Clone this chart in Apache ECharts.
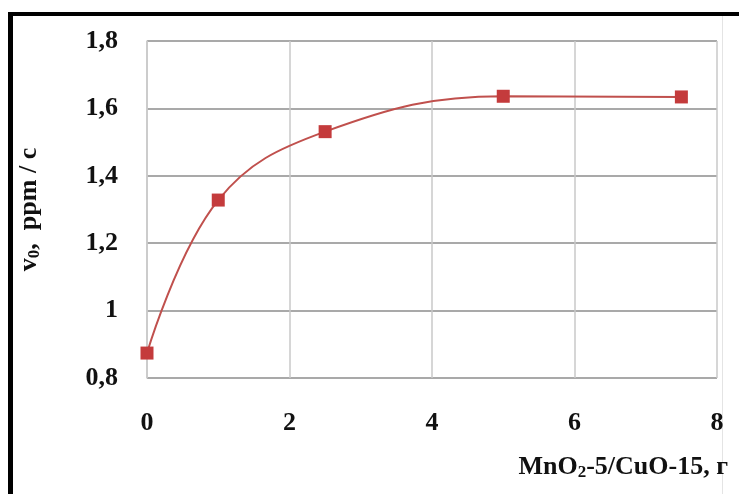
<!DOCTYPE html>
<html><head><meta charset="utf-8">
<script src="https://cdn.jsdelivr.net/npm/echarts@6/dist/echarts.min.js"></script>
<style>html,body{margin:0;padding:0;background:#fff}#c{width:739px;height:494px}</style>
</head><body><div id="c"></div>
<script>
const xValues = [0, 1, 2.5, 5, 7.5];
const yValues = [0.874, 1.328, 1.531, 1.636, 1.634];
const xTicks = [0, 2, 4, 6, 8];
const yTicks = [0.8, 1.0, 1.2, 1.4, 1.6, 1.8];

const chart = echarts.init(document.getElementById('c'));
const serif = '"Liberation Serif","DejaVu Serif",serif';
const fmt = v => (Math.round(v * 10) / 10).toString().replace('.', ',');
chart.setOption({
  animation: false,
  backgroundColor: '#fff',
  grid: { left: 147, top: 41, width: 570, height: 337 },
  xAxis: {
    type: 'value', min: xTicks[0], max: xTicks[xTicks.length - 1], interval: 2,
    axisLine: { show: false }, axisTick: { show: false },
    splitLine: { show: true, lineStyle: { color: '#c8c8c8', width: 1.5 } },
    axisLabel: { margin: 32, fontFamily: serif, fontWeight: 'bold', fontSize: 26, color: '#111', formatter: fmt }
  },
  yAxis: {
    type: 'value', min: yTicks[0], max: yTicks[yTicks.length - 1], interval: 0.2,
    axisLine: { show: true, lineStyle: { color: '#c8c8c8', width: 1.5 } }, axisTick: { show: false },
    splitLine: { show: true, lineStyle: { color: '#8c8c8c', width: 1.5 } },
    axisLabel: { margin: 29, fontFamily: serif, fontWeight: 'bold', fontSize: 26, color: '#111', formatter: fmt },
    name: '{a|v}{s|0}{a|,  ppm / c}', nameLocation: 'middle', nameGap: 104, nameRotate: 90,
    nameTextStyle: { rich: {
      a: { fontFamily: serif, fontWeight: 'bold', fontSize: 26, color: '#111' },
      s: { fontFamily: serif, fontWeight: 'bold', fontSize: 17, color: '#111', verticalAlign: 'bottom', padding: [10, 0, 0, 0] }
    } }
  },
  series: [{
    type: 'line', smooth: 0.4,
    data: xValues.map((x, i) => [x, yValues[i]]),
    symbol: 'rect', symbolSize: 13,
    lineStyle: { color: '#c0504d', width: 2 },
    itemStyle: { color: '#c43b3c' }
  }],
  graphic: [
    { type: 'rect', shape: { x: 8, y: 12, width: 5, height: 482 }, style: { fill: '#000' } },
    { type: 'rect', shape: { x: 8, y: 12, width: 731, height: 4 }, style: { fill: '#000' } },
    { type: 'rect', shape: { x: 722, y: 16, width: 1, height: 478 }, style: { fill: '#e4e4e4' } },
    { type: 'text', right: 11, top: 454, style: {
      text: '{a|MnO}{s|2}{a|-5/CuO-15, г}',
      rich: {
        a: { fontFamily: serif, fontWeight: 'bold', fontSize: 26, fill: '#111' },
        s: { fontFamily: serif, fontWeight: 'bold', fontSize: 17, fill: '#111', padding: [12, 0, 0, 0] }
      }
    } }
  ]
});
</script></body></html>
